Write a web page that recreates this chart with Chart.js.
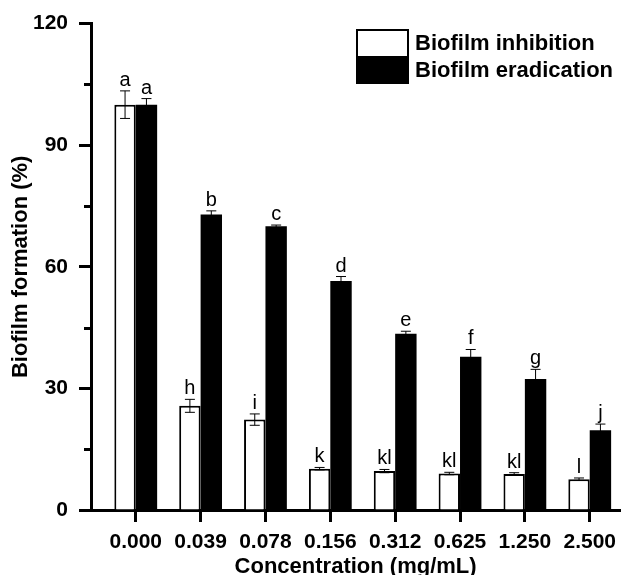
<!DOCTYPE html>
<html>
<head>
<meta charset="utf-8">
<script src="https://cdn.jsdelivr.net/npm/chart.js@4.4.1/dist/chart.umd.min.js"></script>
<style>
  html, body { margin: 0; padding: 0; background: #fff; }
  #wrap { width: 624px; height: 575px; position: relative; }
</style>
</head>
<body>
<div id="wrap"><canvas id="biofilmChart"></canvas></div>
<script>
// valores
const concentrations = ['0.000', '0.039', '0.078', '0.156', '0.312', '0.625', '1.250', '2.500'];
const inhibition = [100, 25.7, 22.3, 10.2, 9.6, 9.0, 8.9, 7.6];
const inhibitionErr = [3.4, 1.6, 1.4, 0.3, 0.4, 0.3, 0.3, 0.3];
const inhibitionLetters = ['a', 'h', 'i', 'k', 'kl', 'kl', 'kl', 'l'];
const eradication = [100, 72.9, 70.0, 56.5, 43.5, 37.8, 32.3, 19.7];
const eradicationErr = [1.5, 0.9, 0.3, 1.1, 0.6, 1.8, 2.4, 1.5];
const eradicationLetters = ['a', 'b', 'c', 'd', 'e', 'f', 'g', 'j'];
const yTicks = [0, 30, 60, 90, 120];
const yMinorTicks = [15, 45, 75, 105];

const errors = [inhibitionErr, eradicationErr];
const letters = [inhibitionLetters, eradicationLetters];

// barras de erro + letras de significancia
const errorBarPlugin = {
    id: 'errorBars',
    afterDatasetsDraw(chart) {
        const ctx = chart.ctx;
        const y = chart.scales.y;
        ctx.save();
        chart.data.datasets.forEach((ds, d) => {
            const meta = chart.getDatasetMeta(d);
            meta.data.forEach((bar, i) => {
                const v = ds.data[i].y;
                const e = errors[d][i];
                const top = y.getPixelForValue(v + e);
                const bot = y.getPixelForValue(v - e);
                ctx.strokeStyle = '#000';
                ctx.lineWidth = 1;
                ctx.beginPath();
                ctx.moveTo(bar.x, top); ctx.lineTo(bar.x, bot);
                ctx.moveTo(bar.x - 5, top); ctx.lineTo(bar.x + 5, top);
                ctx.moveTo(bar.x - 5, bot); ctx.lineTo(bar.x + 5, bot);
                ctx.stroke();
                ctx.fillStyle = '#000';
                ctx.font = '20px "Liberation Sans", Arial, sans-serif';
                ctx.textAlign = 'center';
                ctx.textBaseline = 'alphabetic';
                ctx.fillText(letters[d][i], bar.x, top - 5);
            });
        });
        ctx.restore();
    }
};

// ticks menores do eixo y e legenda
const extrasPlugin = {
    id: 'extras',
    afterDraw(chart) {
        const ctx = chart.ctx;
        const y = chart.scales.y;
        const left = chart.chartArea.left;
        ctx.save();
        ctx.strokeStyle = '#000';
        ctx.lineWidth = 3;
        yMinorTicks.forEach(v => {
            const p = Math.round(y.getPixelForValue(v)) + 0.5;
            ctx.beginPath();
            ctx.moveTo(left - 7, p);
            ctx.lineTo(left, p);
            ctx.stroke();
        });

        // legenda
        const bx = 357, by = 30, bw = 51, bh = 26;
        ctx.fillStyle = '#fff';
        ctx.fillRect(bx, by, bw, bh);
        ctx.fillStyle = '#000';
        ctx.fillRect(bx, by + bh, bw, bh + 1);
        ctx.lineWidth = 2;
        ctx.strokeRect(bx, by, bw, bh * 2 + 1);
        ctx.font = 'bold 22px "Liberation Sans", Arial, sans-serif';
        ctx.textAlign = 'left';
        ctx.textBaseline = 'middle';
        chart.data.datasets.forEach((ds, d) => {
            ctx.fillText(ds.label, bx + bw + 7, by + bh / 2 + d * (bh + 1) + 1);
        });
        ctx.restore();
    }
};

const canvas = document.getElementById('biofilmChart');
new Chart(canvas.getContext('2d'), {
    type: 'bar',
    data: {
        datasets: [{
            label: 'Biofilm inhibition',
            data: inhibition.map((v, i) => ({ x: i, y: v })),
            backgroundColor: '#fff',
            borderColor: '#000',
            borderWidth: 2,
            categoryPercentage: 0.66,
            barPercentage: 1.0
        }, {
            label: 'Biofilm eradication',
            data: eradication.map((v, i) => ({ x: i, y: v })),
            backgroundColor: '#000',
            borderColor: '#000',
            borderWidth: 0,
            categoryPercentage: 0.66,
            barPercentage: 1.0
        }]
    },
    options: {
        responsive: true,
        maintainAspectRatio: false,
        animation: false,
        layout: { padding: { top: 23, right: 0, left: 0, bottom: 0 } },
        plugins: {
            legend: { display: false },
            tooltip: { enabled: false }
        },
        scales: {
            x: {
                type: 'linear',
                offset: false,
                min: -0.69,
                max: 7.47,
                afterBuildTicks: scale => {
                    scale.ticks = concentrations.map((c, i) => ({ value: i }));
                },
                afterFit: scale => { scale.height = 65; },
                grid: { offset: false, drawOnChartArea: false, drawTicks: true, tickLength: 12, tickWidth: 3, tickColor: '#000' },
                border: { color: '#000', width: 3 },
                ticks: {
                    color: '#000',
                    padding: 8,
                    maxRotation: 0,
                    autoSkip: false,
                    font: { family: '"Liberation Sans", Arial, sans-serif', size: 21, weight: 'bold' },
                    callback: value => concentrations[value]
                },
                title: {
                    display: true,
                    text: 'Concentration (mg/mL)',
                    color: '#000',
                    padding: { top: 0, bottom: -3 },
                    font: { family: '"Liberation Sans", Arial, sans-serif', size: 22, weight: 'bold', lineHeight: 1 }
                }
            },
            y: {
                min: 0,
                max: 120,
                afterBuildTicks: scale => {
                    scale.ticks = yTicks.map(v => ({ value: v }));
                },
                afterFit: scale => { scale.width = 91; },
                grid: { drawOnChartArea: false, drawTicks: true, tickLength: 12, tickWidth: 3, tickColor: '#000' },
                border: { color: '#000', width: 3 },
                ticks: {
                    color: '#000',
                    padding: 11,
                    font: { family: '"Liberation Sans", Arial, sans-serif', size: 21, weight: 'bold' }
                },
                title: {
                    display: true,
                    text: 'Biofilm formation (%)',
                    color: '#000',
                    padding: { top: 10, bottom: 0 },
                    font: { family: '"Liberation Sans", Arial, sans-serif', size: 22, weight: 'bold', lineHeight: 1 }
                }
            }
        }
    },
    plugins: [errorBarPlugin, extrasPlugin]
});
</script>
</body>
</html>
